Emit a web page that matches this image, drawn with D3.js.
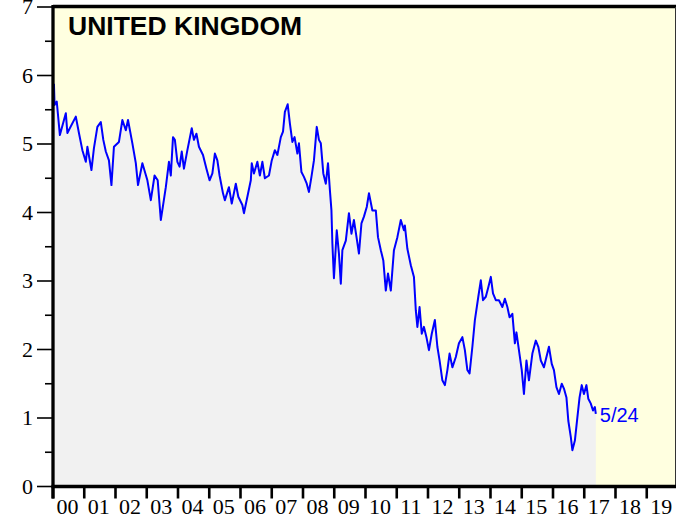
<!DOCTYPE html>
<html>
<head>
<meta charset="utf-8">
<script src="https://cdn.jsdelivr.net/npm/d3@7"></script>
<style>
  body { margin: 0; background: #fff; }
</style>
</head>
<body>
<script>
// UK 10 year gilt yield
// time is in years since the start of 2000
var yearPos = [
  0.03, 0.05, 0.12, 0.22, 0.41, 0.46, 0.73, 0.83, 0.94, 1.05,
  1.10, 1.23, 1.31, 1.42, 1.53, 1.61, 1.69, 1.79, 1.87, 1.95,
  2.11, 2.22, 2.33, 2.40, 2.54, 2.65, 2.72, 2.86, 3.02, 3.13,
  3.25, 3.35, 3.45, 3.61, 3.71, 3.77, 3.84, 3.90, 3.98, 4.05,
  4.12, 4.19, 4.30, 4.44, 4.51, 4.59, 4.67, 4.80, 4.91, 5.01,
  5.10, 5.18, 5.26, 5.33, 5.44, 5.50, 5.63, 5.72, 5.85, 5.93,
  6.06, 6.11, 6.22, 6.33, 6.36, 6.43, 6.54, 6.62, 6.70, 6.78,
  6.91, 7.00, 7.10, 7.18, 7.29, 7.36, 7.42, 7.51, 7.58, 7.66,
  7.73, 7.82, 7.87, 7.95, 8.03, 8.12, 8.19, 8.27, 8.35, 8.44,
  8.51, 8.57, 8.65, 8.73, 8.80, 8.86, 8.91, 8.94, 8.99, 9.08,
  9.15, 9.21, 9.26, 9.37, 9.47, 9.55, 9.63, 9.72, 9.79, 9.87,
  9.95, 10.04, 10.11, 10.22, 10.33, 10.40, 10.49, 10.57, 10.65, 10.72,
  10.81, 10.91, 11.02, 11.13, 11.23, 11.26, 11.34, 11.45, 11.55, 11.61,
  11.66, 11.73, 11.80, 11.87, 11.95, 12.03, 12.12, 12.22, 12.30, 12.37,
  12.46, 12.54, 12.62, 12.69, 12.78, 12.89, 12.99, 13.10, 13.18, 13.26,
  13.33, 13.42, 13.50, 13.61, 13.69, 13.76, 13.85, 13.93, 14.01, 14.08,
  14.17, 14.27, 14.38, 14.46, 14.54, 14.61, 14.70, 14.78, 14.83, 14.91,
  15.00, 15.07, 15.15, 15.23, 15.34, 15.45, 15.53, 15.61, 15.71, 15.79,
  15.87, 15.96, 16.03, 16.11, 16.19, 16.28, 16.35, 16.43, 16.49, 16.57,
  16.62, 16.70, 16.78, 16.85, 16.92, 16.99, 17.07, 17.13, 17.21, 17.28,
  17.34, 17.37
];
var yieldValues = [
  5.88, 5.57, 5.62, 5.13, 5.45, 5.16, 5.40, 5.16, 4.91, 4.74,
  4.96, 4.62, 4.94, 5.25, 5.32, 5.06, 4.89, 4.76, 4.40, 4.96,
  5.03, 5.35, 5.20, 5.35, 5.01, 4.72, 4.40, 4.72, 4.47, 4.18,
  4.54, 4.47, 3.89, 4.37, 4.74, 4.54, 5.10, 5.06, 4.74, 4.67,
  4.89, 4.64, 4.91, 5.23, 5.06, 5.15, 4.96, 4.84, 4.64, 4.47,
  4.57, 4.86, 4.76, 4.54, 4.28, 4.18, 4.37, 4.13, 4.42, 4.23,
  4.11, 3.99, 4.23, 4.47, 4.72, 4.57, 4.74, 4.54, 4.74, 4.50,
  4.54, 4.76, 4.91, 4.84, 5.10, 5.18, 5.47, 5.58, 5.30, 5.03,
  5.10, 4.86, 5.01, 4.59, 4.52, 4.42, 4.30, 4.52, 4.76, 5.25,
  5.06, 5.01, 4.57, 4.42, 4.72, 4.33, 4.03, 3.55, 3.04, 3.74,
  3.40, 2.96, 3.45, 3.59, 3.99, 3.69, 3.89, 3.62, 3.40, 3.84,
  3.94, 4.08, 4.28, 4.03, 4.03, 3.64, 3.45, 3.30, 2.86, 3.11,
  2.86, 3.45, 3.64, 3.89, 3.74, 3.81, 3.47, 3.23, 3.06, 2.57,
  2.33, 2.62, 2.23, 2.33, 2.18, 1.99, 2.23, 2.43, 2.04, 1.84,
  1.55, 1.48, 1.70, 1.94, 1.74, 1.89, 2.09, 2.18, 1.99, 1.70,
  1.65, 2.04, 2.43, 2.77, 3.01, 2.72, 2.77, 2.91, 3.06, 2.82,
  2.72, 2.72, 2.62, 2.74, 2.62, 2.47, 2.52, 2.09, 2.25, 1.99,
  1.70, 1.35, 1.84, 1.55, 1.94, 2.13, 2.04, 1.84, 1.74, 1.89,
  2.04, 1.79, 1.70, 1.45, 1.35, 1.50, 1.43, 1.30, 0.96, 0.72,
  0.53, 0.67, 1.01, 1.30, 1.48, 1.35, 1.48, 1.28, 1.21, 1.11,
  1.16, 1.06
];
var yearLabels = ["00","01","02","03","04","05","06","07","08","09",
                  "10","11","12","13","14","15","16","17","18","19"];
var yTicks = [0, 1, 2, 3, 4, 5, 6, 7];
var countryName = "UNITED KINGDOM";
var lastDateLabel = "5/24";

var data = yearPos.map(function(t, i) { return { t: t, v: yieldValues[i] }; });

var width = 676, height = 520;
// note: "top" clashes with window.top, so use plot* names
var plotLeft = 53, plotRight = 675, plotTop = 7, plotBottom = 486.5;

var svg = d3.select("body").append("svg")
  .attr("width", width)
  .attr("height", height);

var x = d3.scaleLinear().domain([0, 20]).range([plotLeft, plotLeft + 625]);
var y = d3.scaleLinear().domain([0, 7]).range([plotBottom, plotTop]);

// yellow plot background
svg.append("rect")
  .attr("x", plotLeft).attr("y", plotTop)
  .attr("width", plotRight - plotLeft).attr("height", plotBottom - plotTop)
  .attr("fill", "#ffffe0");

// grey area under the line
var area = d3.area()
  .x(function(d) { return x(d.t); })
  .y0(y(0))
  .y1(function(d) { return y(d.v); });

svg.append("path")
  .datum([{ t: 0, v: data[0].v }].concat(data))
  .attr("fill", "#f1f1f1")
  .attr("d", area);

var line = d3.line()
  .x(function(d) { return x(d.t); })
  .y(function(d) { return y(d.v); });

svg.append("path")
  .datum(data)
  .attr("fill", "none")
  .attr("stroke", "#0000ff")
  .attr("stroke-width", 2)
  .attr("stroke-linejoin", "round")
  .attr("d", line);

// frame: thick top, thin right
svg.append("line")
  .attr("x1", plotLeft).attr("x2", width)
  .attr("y1", plotTop - 0.5).attr("y2", plotTop - 0.5)
  .attr("stroke", "#000").attr("stroke-width", 3.5);
svg.append("line")
  .attr("x1", plotRight + 0.5).attr("x2", plotRight + 0.5)
  .attr("y1", plotTop).attr("y2", plotBottom)
  .attr("stroke", "#333").attr("stroke-width", 1);

// y axis ticks, major and half-step minor
var yAxis = svg.append("g");
yTicks.forEach(function(v) {
  yAxis.append("line")
    .attr("x1", 37).attr("x2", plotLeft)
    .attr("y1", y(v)).attr("y2", y(v))
    .attr("stroke", "#000").attr("stroke-width", 1.6);
  yAxis.append("text")
    .attr("x", 33).attr("y", y(v))
    .attr("dy", "0.34em")
    .attr("text-anchor", "end")
    .style("font-family", "'Liberation Serif', 'Times New Roman', serif")
    .style("font-size", "22px")
    .attr("fill", "#000")
    .text(v);
  if (v < 7) {
    yAxis.append("line")
      .attr("x1", 45).attr("x2", plotLeft)
      .attr("y1", y(v + 0.5)).attr("y2", y(v + 0.5))
      .attr("stroke", "#000").attr("stroke-width", 1.6);
  }
});

// x axis ticks at year boundaries, labels to the right of each
var xAxis = svg.append("g");
yearLabels.forEach(function(lab, i) {
  xAxis.append("line")
    .attr("x1", x(i)).attr("x2", x(i))
    .attr("y1", plotBottom).attr("y2", plotBottom + 12)
    .attr("stroke", "#000").attr("stroke-width", 2.6);
  xAxis.append("text")
    .attr("x", x(i) + 3.5).attr("y", 514)
    .style("font-family", "'Liberation Serif', 'Times New Roman', serif")
    .style("font-size", "22px")
    .attr("fill", "#000")
    .text(lab);
});

// axis lines
svg.append("line")
  .attr("x1", plotLeft).attr("x2", plotLeft)
  .attr("y1", plotTop - 2).attr("y2", plotBottom + 12)
  .attr("stroke", "#000").attr("stroke-width", 3.3);
svg.append("line")
  .attr("x1", plotLeft - 1.5).attr("x2", width)
  .attr("y1", plotBottom).attr("y2", plotBottom)
  .attr("stroke", "#000").attr("stroke-width", 3.3);

// title
svg.append("text")
  .attr("x", 68).attr("y", 35)
  .style("font-family", "'Liberation Sans', Arial, sans-serif")
  .style("font-weight", "bold")
  .style("font-size", "26.5px")
  .attr("fill", "#000")
  .text(countryName);

// last date label
var last = data[data.length - 1];
svg.append("text")
  .attr("x", x(last.t) + 4).attr("y", y(last.v) + 8)
  .style("font-family", "'Liberation Sans', Arial, sans-serif")
  .style("font-size", "20px")
  .attr("fill", "#0000ff")
  .text(lastDateLabel);
</script>
</body>
</html>
